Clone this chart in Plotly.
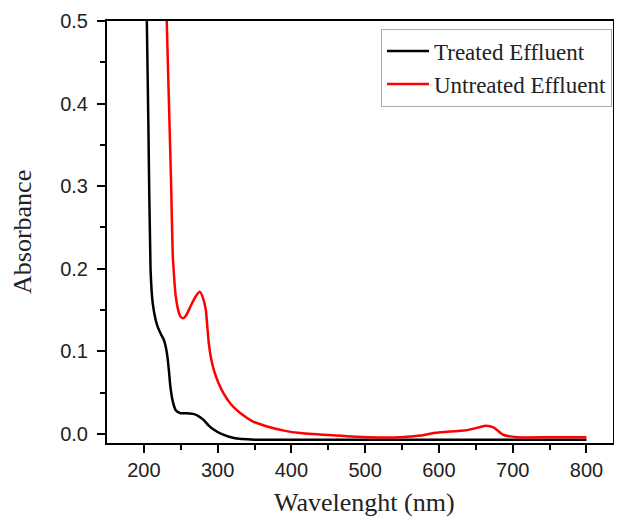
import plotly.graph_objects as go

# UV-Vis absorbance spectra
treated_wl = [202, 204, 206, 209, 212, 216, 219, 223, 227, 230, 232, 234, 236, 239, 243, 247,
              250, 258, 268, 275, 281, 288, 295, 305, 322, 350, 400, 500, 600, 700, 800]
treated_abs = [0.62, 0.50, 0.38, 0.20, 0.158, 0.138, 0.129, 0.121, 0.114, 0.104, 0.093, 0.076,
               0.057, 0.040, 0.029, 0.026, 0.025, 0.025, 0.024, 0.021, 0.017, 0.010, 0.005,
               0.000, -0.005, -0.007, -0.007, -0.007, -0.007, -0.007, -0.007]

untreated_wl = [229, 231, 234, 237, 239, 241, 243, 246, 249, 253, 257, 263, 270, 276, 280, 284,
                286, 288, 291, 295, 301, 308, 318, 331, 348, 367, 390, 412, 460, 504, 548, 575,
                593, 615, 634, 650, 663, 674, 687, 706, 750, 800]
untreated_abs = [0.60, 0.50, 0.40, 0.30, 0.22, 0.19, 0.168, 0.152, 0.143, 0.140, 0.143, 0.154,
                 0.166, 0.172, 0.165, 0.150, 0.130, 0.110, 0.092, 0.077, 0.062, 0.049, 0.036,
                 0.025, 0.015, 0.009, 0.004, 0.001, -0.002, -0.004, -0.004, -0.002, 0.001,
                 0.003, 0.004, 0.007, 0.010, 0.008, -0.001, -0.004, -0.004, -0.004]

fig = go.Figure()
fig.add_trace(go.Scatter(x=treated_wl, y=treated_abs, mode='lines', name='Treated Effluent',
                         line=dict(color='black', width=2.5, shape='spline', smoothing=0.5)))
fig.add_trace(go.Scatter(x=untreated_wl, y=untreated_abs, mode='lines', name='Untreated Effluent',
                         line=dict(color='#ff0000', width=2.5, shape='spline', smoothing=0.5)))

serif = dict(family='Liberation Serif', size=26, color='#222222')

fig.update_layout(
    width=622, height=519,
    # page body adds 8px offset, so margins are shifted accordingly
    margin=dict(l=99, r=17, t=13, b=84),
    plot_bgcolor='white', paper_bgcolor='white',
    showlegend=True,
    legend=dict(x=0.998, xanchor='right', y=0.982, yanchor='top',
                bordercolor='#aaaaaa', borderwidth=1, bgcolor='white',
                font=dict(family='Liberation Serif', size=23, color='#222222'),
                tracegroupgap=0, itemwidth=42),
    annotations=[
        dict(text='Wavelenght (nm)', xref='paper', yref='paper', x=0.508, y=-0.142,
             xanchor='center', yanchor='middle', showarrow=False, font=serif),
        dict(text='Absorbance', xref='paper', yref='paper', x=-0.168, y=0.5,
             xanchor='center', yanchor='middle', textangle=-90, showarrow=False, font=serif),
    ],
)
fig.update_xaxes(
    range=[150, 836], tickvals=[200, 300, 400, 500, 600, 700, 800],
    ticks='outside', ticklen=8, tickwidth=2, tickcolor='black',
    minor=dict(tickvals=[250, 350, 450, 550, 650, 750], ticks='outside', ticklen=5,
               tickwidth=2, tickcolor='black'),
    showline=True, linecolor='black', linewidth=2, mirror=True,
    showgrid=False, zeroline=False, automargin=False,
    tickfont=dict(family='Liberation Sans', size=20, color='#222222'),
)
fig.update_yaxes(
    range=[-0.011, 0.5], tickvals=[0.0, 0.1, 0.2, 0.3, 0.4, 0.5], tickformat='.1f',
    ticks='outside', ticklen=8, tickwidth=2, tickcolor='black',
    minor=dict(tickvals=[0.05, 0.15, 0.25, 0.35, 0.45], ticks='outside', ticklen=5,
               tickwidth=2, tickcolor='black'),
    showline=True, linecolor='black', linewidth=2, mirror=True,
    showgrid=False, zeroline=False, automargin=False, ticklabelstandoff=5,
    tickfont=dict(family='Liberation Sans', size=20, color='#222222'),
)

fig.write_html("out.html")
